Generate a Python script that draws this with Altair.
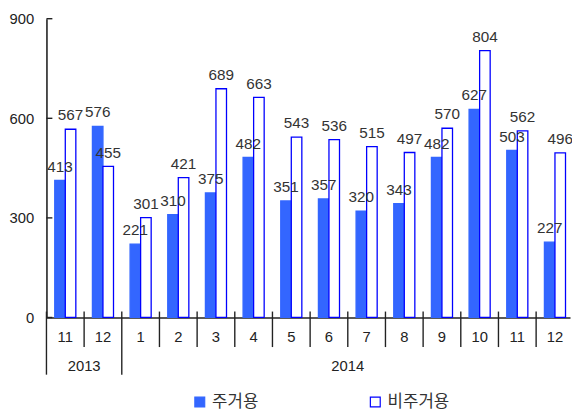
import altair as alt
import pandas as pd

# ---- data ----
months = ["11", "12", "1", "2", "3", "4", "5", "6", "7", "8", "9", "10", "11", "12"]
years = ["2013", "2013"] + ["2014"] * 12
residential = [413, 576, 221, 310, 375, 482, 351, 357, 320, 343, 482, 627, 503, 227]
non_residential = [567, 455, 301, 421, 689, 663, 543, 536, 515, 497, 570, 804, 562, 496]
series_names = ["주거용", "비주거용"]
y_ticks = [0, 300, 600, 900]

# ---- layout constants ----
BAR_START = 0.22
BAR_W = 0.28
X_DOMAIN = [0, 13.9]
TXT = "#333333"
AX = "#222222"
FONT = "Liberation Sans"

rows = []
for i, (r, n) in enumerate(zip(residential, non_residential)):
    for k, (name, v) in enumerate(zip(series_names, [r, n])):
        x0 = i + BAR_START + k * BAR_W
        rows.append({"series": name, "value": v, "x0": x0, "x1": x0 + BAR_W, "xc": x0 + BAR_W / 2})
bar_df = pd.DataFrame(rows)

month_df = pd.DataFrame({"month": months, "mid": [i + 0.5 for i in range(len(months))]})

year_bounds = [0] + [i for i in range(1, len(years)) if years[i] != years[i - 1]]
month_div = pd.DataFrame({"pos": [i for i in range(1, len(months)) if i not in year_bounds]})
year_div = pd.DataFrame({"pos": year_bounds})
year_df = pd.DataFrame({
    "year": [years[b] for b in year_bounds],
    "mid": [(b + (year_bounds[j + 1] if j + 1 < len(year_bounds) else len(years))) / 2
            for j, b in enumerate(year_bounds)],
})
tick_df = pd.DataFrame({"tick": y_ticks})

xs = alt.Scale(domain=X_DOMAIN, nice=False, zero=False)
ys = alt.Scale(domain=[0, 900], nice=False)

leg = alt.Legend(title=None, orient="none", legendX=147, legendY=380, direction="horizontal",
                 symbolType="square", symbolSize=100, symbolStrokeWidth=1.2,
                 labelFontSize=17, labelFont="Noto Sans CJK KR", labelColor=TXT,
                 columnPadding=110, labelOffset=4)

bars = alt.Chart(bar_df).mark_bar(strokeWidth=1.3).encode(
    x=alt.X("x0:Q", scale=xs, axis=alt.Axis(title=None, labels=False, ticks=False, grid=False,
                                              domainColor=AX, domainWidth=1.6)),
    x2="x1:Q",
    y=alt.Y("value:Q", scale=ys, axis=alt.Axis(values=y_ticks, title=None, ticks=False, grid=False,
                                                 labelPadding=13, labelFontSize=15, labelFont=FONT,
                                                 labelFlush=False,
                                                 labelColor=AX, domainColor=AX, domainWidth=1.6)),
    y2=alt.datum(0),
    fill=alt.Fill("series:N", scale=alt.Scale(domain=series_names, range=["#3366FF", "white"]), legend=leg),
    stroke=alt.Stroke("series:N", scale=alt.Scale(domain=series_names, range=["#3366FF", "#0000FF"]), legend=leg),
)

labels = alt.Chart(bar_df).mark_text(baseline="alphabetic", align="center", dy=-9,
                                     fontSize=15.5, font=FONT, color=TXT).encode(
    x=alt.X("xc:Q", scale=xs), y=alt.Y("value:Q", scale=ys), text="value:Q")

ytick_rules = alt.Chart(tick_df).mark_rule(color=AX, strokeWidth=1.4).encode(
    y=alt.Y("tick:Q", scale=ys), x=alt.value(0), x2=alt.value(6))

mdiv = alt.Chart(month_div).mark_rule(color=AX, strokeWidth=1.4).encode(
    x=alt.X("pos:Q", scale=xs), y=alt.value(297), y2=alt.value(333))

ydiv = alt.Chart(year_div).mark_rule(color=AX, strokeWidth=1.4).encode(
    x=alt.X("pos:Q", scale=xs), y=alt.value(297), y2=alt.value(361))

mtext = alt.Chart(month_df).mark_text(baseline="middle", align="center", fontSize=15,
                                      font=FONT, color=AX).encode(
    x=alt.X("mid:Q", scale=xs), y=alt.value(323), text="month:N")

ytext = alt.Chart(year_df).mark_text(baseline="middle", align="center", fontSize=15,
                                     font=FONT, color=AX).encode(
    x=alt.X("mid:Q", scale=xs), y=alt.value(352), text="year:N")

chart = alt.layer(bars, labels, ytick_rules, mdiv, ydiv, mtext, ytext).properties(
    width=531, height=303, autosize="none",
    padding={"left": 39, "top": 8, "right": 2, "bottom": 93},
).configure_view(stroke=None)

chart.save("out.html", embed_options={"renderer": "svg", "actions": False})
